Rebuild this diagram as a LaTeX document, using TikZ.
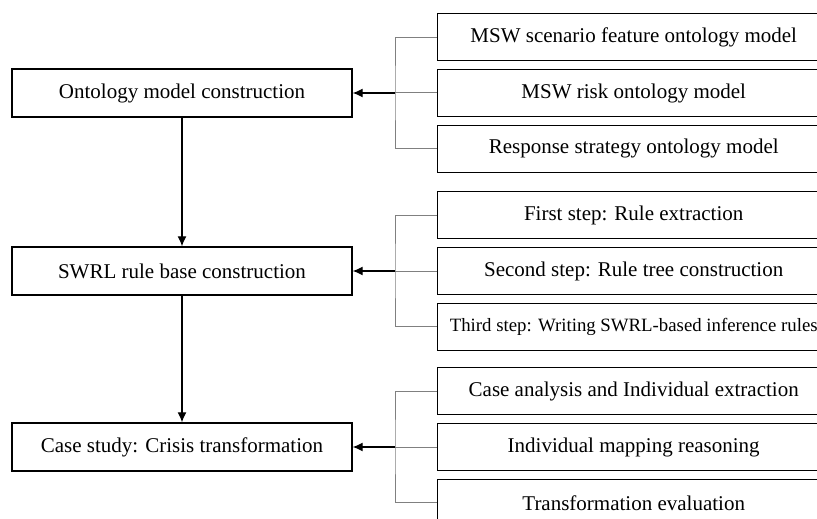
\documentclass[tikz,border=0pt]{standalone}
\usepackage{fontspec}
\setmainfont{Liberation Serif}
\usetikzlibrary{arrows.meta}
\usetikzlibrary{positioning}

\begin{document}
\begin{tikzpicture}[
            x=0.5pt,y=-0.5pt,
            every node/.style={rectangle,draw,line width=0.7pt,font=\fontsize{10.5}{12}\selectfont,inner sep=3.4pt},
            stage/.style={minimum width=170pt,minimum height=24pt},
            task/.style={anchor=west,minimum width=196pt,minimum height=23.5pt},
            bracket/.style={draw=gray,line width=0.5pt}
        ]
        \tikzset{>={Latex[length=5pt,width=4.5pt]}}
        \clip (0,0) rectangle (817,518);
        % main stages
        \node[stage] (ontology node) at (182,93) {Ontology model construction};
        \node[stage] (swrl node) at (182,271) {SWRL rule base construction};
        \node[stage] (case node) at (182,447) {Case study: Crisis transformation};
        \draw[->,line width=0.6pt] (ontology node) -- (swrl node);
        \draw[->,line width=0.6pt] (swrl node) -- (case node);
        % ontology models
        \node[task] (risk node) at (437,93) {MSW risk ontology model};
        \node[task,above=3.75pt of risk node.north west,anchor=south west] (feature node) {MSW scenario feature ontology model};
        \node[task,below=3.75pt of risk node.south west,anchor=north west] (response node) {Response strategy ontology model};
        \path (risk node.west) ++(-42,0) coordinate (ontology join);
        \draw[bracket] (feature node.west) -| (ontology join) |- (response node.west);
        \draw[bracket] (risk node.west) -- (ontology join);
        \draw[->,line width=0.6pt] (ontology join) -- (ontology node.east);
        % rule steps
        \node[task] (tree node) at (437,271) {Second step: Rule tree construction};
        \node[task,above=3.75pt of tree node.north west,anchor=south west] (extraction node) {First step: Rule extraction};
        \node[task,below=3.75pt of tree node.south west,anchor=north west,font=\fontsize{9.4}{12}\selectfont,inner xsep=1.5pt] (writing node) {Third step: Writing SWRL-based inference rules};
        \path (tree node.west) ++(-42,0) coordinate (swrl join);
        \draw[bracket] (extraction node.west) -| (swrl join) |- (writing node.west);
        \draw[bracket] (tree node.west) -- (swrl join);
        \draw[->,line width=0.6pt] (swrl join) -- (swrl node.east);
        % case study
        \node[task] (mapping node) at (437,447) {Individual mapping reasoning};
        \node[task,above=3.75pt of mapping node.north west,anchor=south west] (analysis node) {Case analysis and Individual extraction};
        \node[task,below=3.75pt of mapping node.south west,anchor=north west] (evaluation node) {Transformation evaluation};
        \path (mapping node.west) ++(-42,0) coordinate (case join);
        \draw[bracket] (analysis node.west) -| (case join) |- (evaluation node.west);
        \draw[bracket] (mapping node.west) -- (case join);
        \draw[->,line width=0.6pt] (case join) -- (case node.east);
    \end{tikzpicture}
\end{document}
